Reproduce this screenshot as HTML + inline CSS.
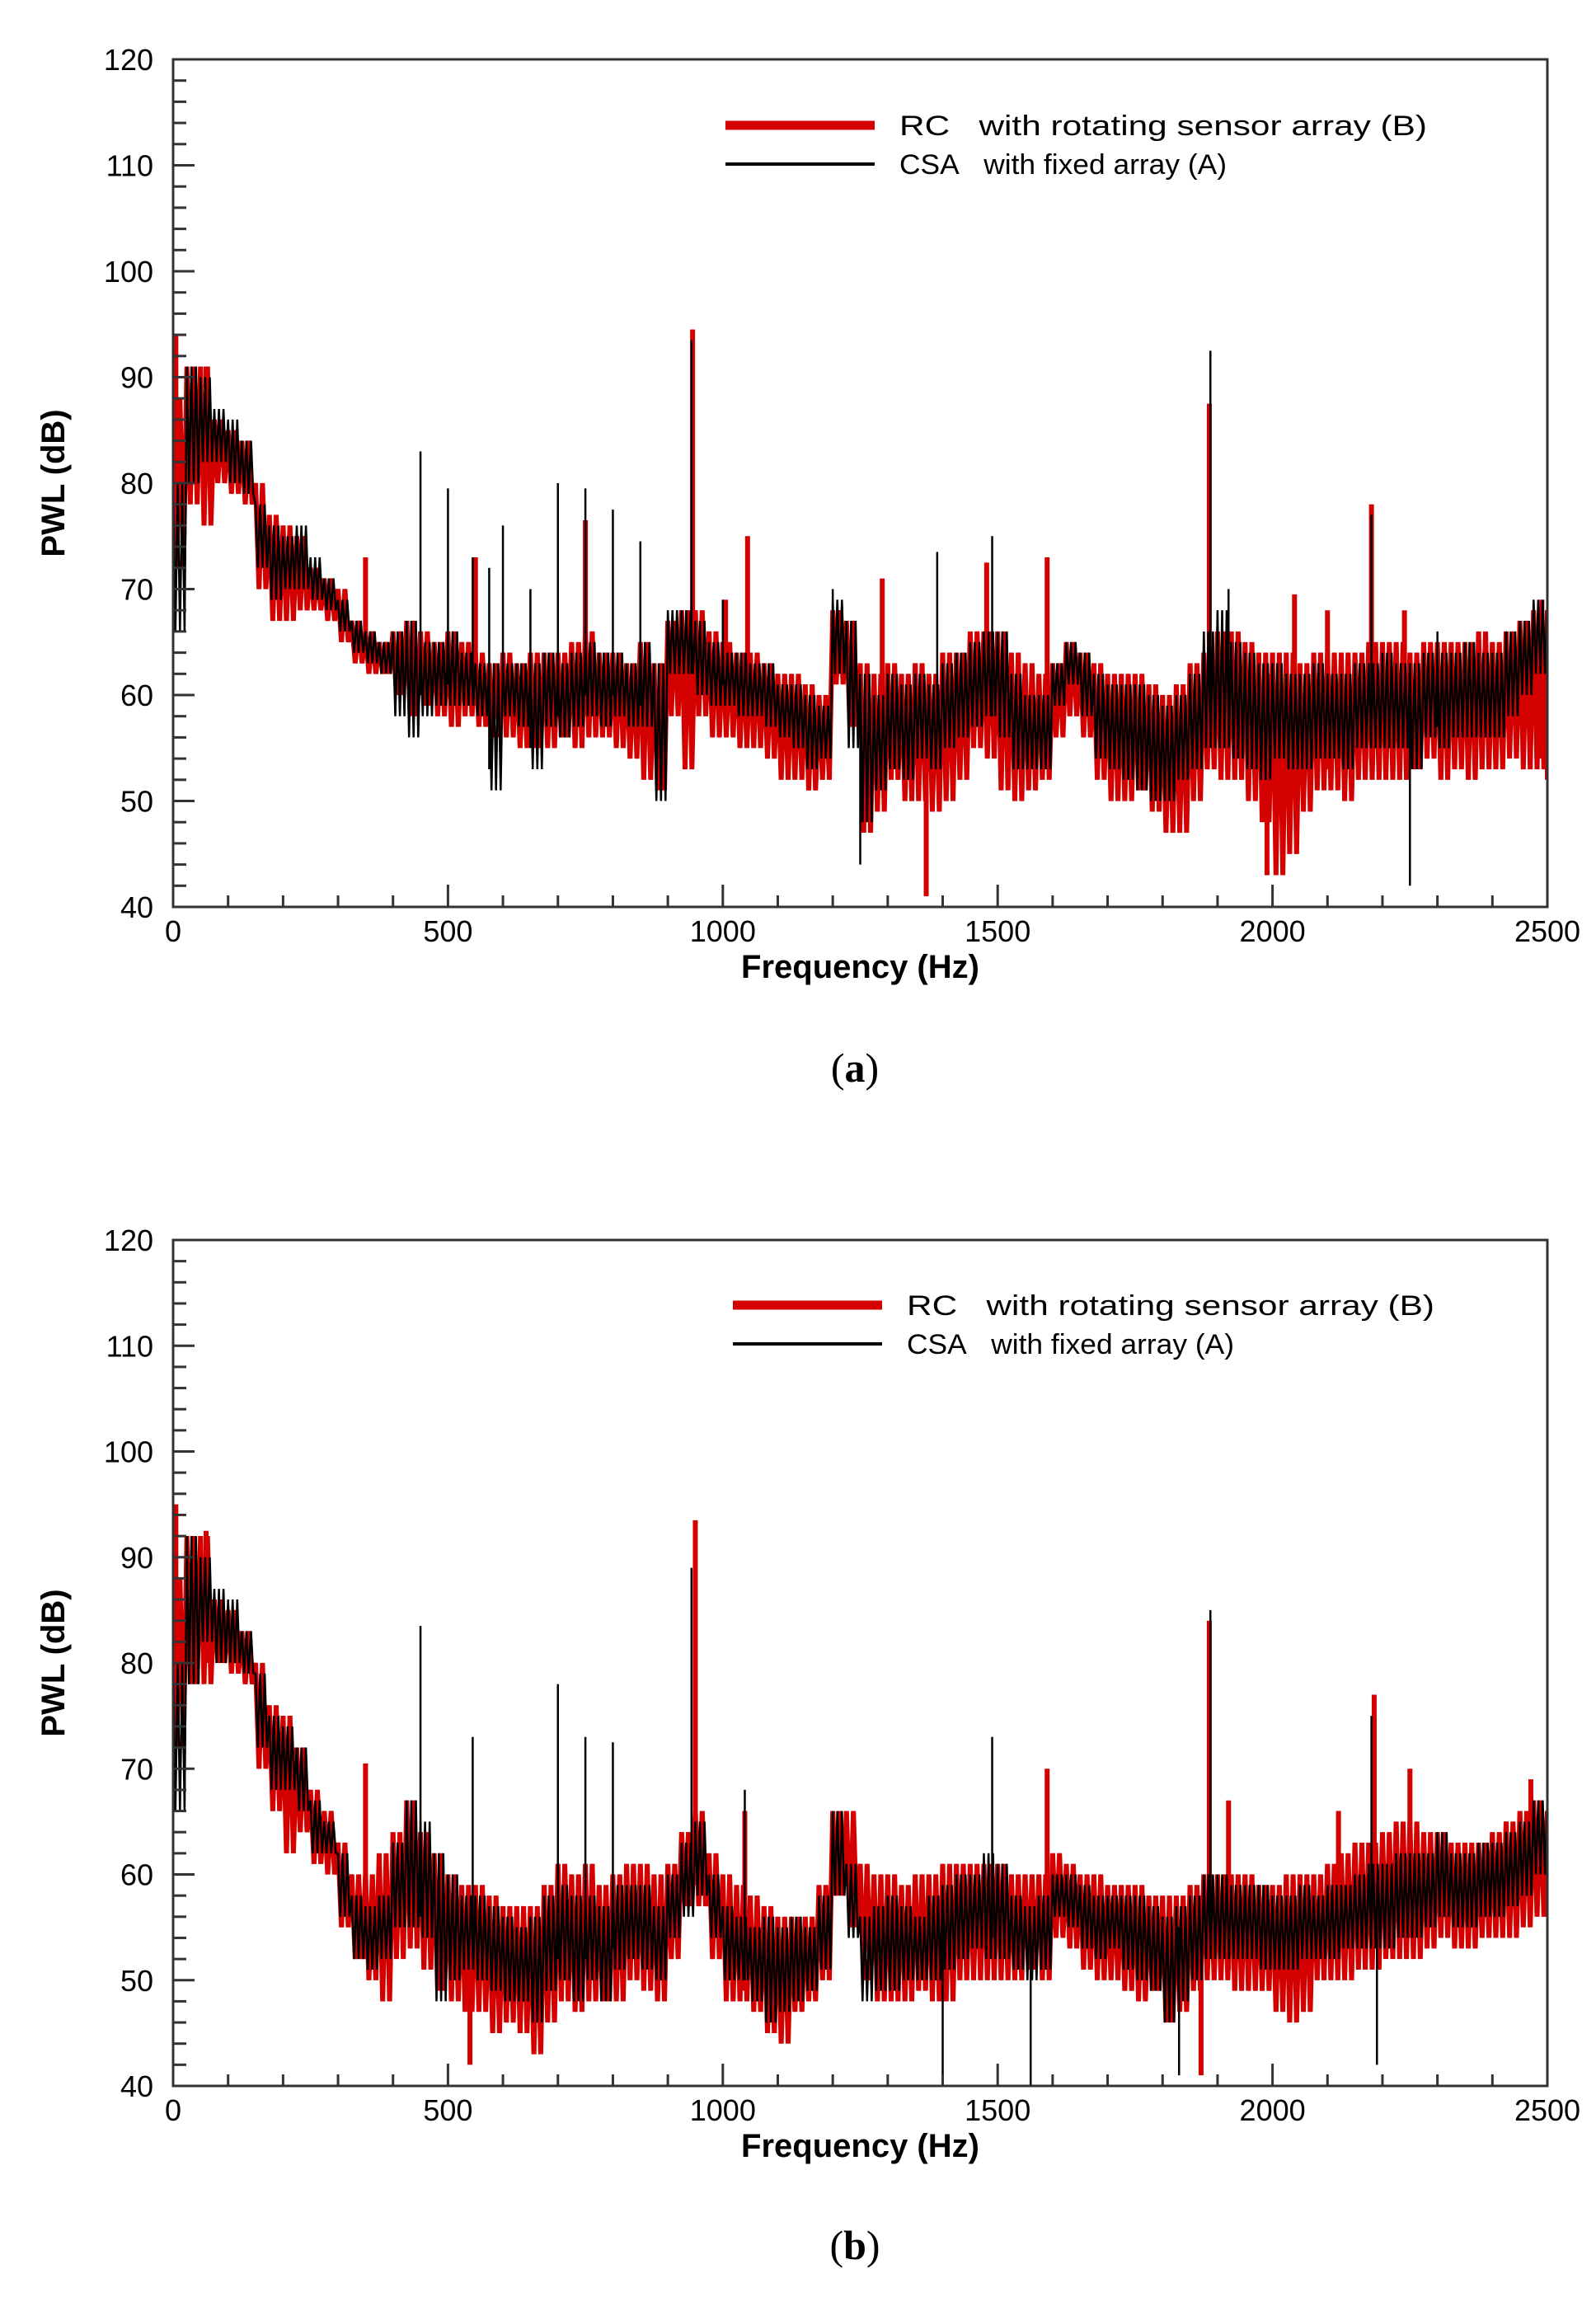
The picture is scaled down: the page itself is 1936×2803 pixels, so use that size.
<!DOCTYPE html>
<html><head><meta charset="utf-8"><style>
html,body{margin:0;padding:0;background:#fff}
svg{display:block}
text{font-family:"Liberation Sans",Arial,sans-serif;fill:#000}
</style></head><body>
<svg id="svg" width="1936" height="2803" viewBox="0 0 1936 2803"></svg>
<script>
// ---------- data (25 Hz bins: upper/lower envelope in dB) ----------
const freqStep = 25;
const xTicks = [0,500,1000,1500,2000,2500];
const yTicks = [40,50,60,70,80,90,100,110,120];

const aBlackHi=[80,91,90,87,86,84,78,76,75,76,73,71,69,67,66,65,66,67,65,65,66,64,63,63,63,63,63,64,63,64,65,64,64,63,65,63,68,68,67,65,64,64,63,63,61,61,60,59,69,67,62,60,62,61,62,61,63,64,65,66,66,62,60,60,63,65,64,62,61,61,61,60,59,60,62,66,68,65,64,63,63,62,62,63,62,62,63,63,64,63,63,64,64,64,65,64,64,66,67,69,69];
const aBlackLo=[66,80,82,82,80,79,72,69,70,70,69,68,66,64,63,62,58,56,58,59,59,59,58,51,58,57,53,57,56,57,58,57,58,57,57,50,62,62,60,59,59,58,58,57,56,55,53,54,62,55,48,51,53,52,54,53,55,56,57,58,56,53,53,53,59,61,58,54,53,52,51,50,50,52,53,55,55,54,53,52,54,53,53,54,54,53,55,55,55,55,53,56,55,56,56,56,56,58,60,62,63];
const aRedHi=[88,91,91,86,85,84,80,77,76,75,72,71,70,67,66,65,66,67,66,65,66,65,64,63,64,63,64,64,64,65,66,64,64,63,65,63,67,68,68,66,65,64,64,63,62,62,61,60,68,67,63,62,63,62,63,62,64,64,66,66,66,64,63,62,63,65,64,63,62,62,62,61,60,61,63,64,66,66,65,64,64,64,63,64,64,64,64,65,65,65,64,65,65,65,65,66,65,66,67,68,68];
const aRedLo=[72,78,76,80,79,78,70,67,67,68,68,67,65,63,62,62,60,58,59,58,57,58,57,56,56,55,55,55,56,55,56,56,55,54,52,51,58,53,58,56,56,55,55,54,52,52,51,52,61,57,47,49,52,50,50,49,50,52,55,54,51,50,51,52,56,58,56,52,50,50,51,49,47,47,50,53,52,52,50,48,43,45,49,51,51,50,52,52,52,52,53,54,52,53,52,53,53,54,53,53,52];
const aBlackPeakF=[450,500,545,575,600,650,700,750,800,850,943,1000,1200,1250,1390,1490,1887,1920,2180,2250,2300];
const aBlackPeakV=[83,79.5,73,72,76,70,80,79.5,77.5,74.5,93.5,69,70,44,73.5,75,92.5,70,77,42,66];
const aRedPeakF=[5,60,350,550,750,945,1005,1045,1290,1370,1480,1590,1885,1990,2040,2100,2180,2240,2490];
const aRedPeakV=[94,91,73,73,76.5,94.5,69,75,71,41,72.5,73,87.5,43,69.5,68,78,68,69];

const bBlackHi=[80,92,90,87,86,83,79,75,74,72,67,65,62,58,57,58,63,67,65,62,60,58,58,57,56,55,56,58,59,58,58,57,59,59,59,57,60,63,65,60,57,56,55,56,55,56,55,58,66,61,56,57,58,57,56,58,59,60,60,62,61,58,57,58,60,60,59,58,58,58,58,57,56,57,58,60,60,59,59,59,58,58,59,58,59,59,60,61,61,62,62,62,64,62,62,63,63,64,65,67,67];
const bBlackLo=[66,78,82,80,80,79,72,68,68,66,62,62,56,52,51,52,55,55,54,48,50,51,50,49,48,48,46,49,50,48,50,48,51,52,51,50,54,56,58,54,50,50,48,46,47,48,49,51,58,54,48,49,49,50,50,50,51,52,53,52,52,51,50,51,56,55,53,52,53,51,50,49,46,48,50,52,52,52,52,51,51,51,52,52,52,53,53,53,53,54,54,55,56,55,55,56,56,57,58,60,58];
const bRedHi=[88,92,92,86,85,83,80,76,75,72,68,66,63,60,60,62,64,67,64,62,60,59,59,58,57,57,57,59,61,60,61,59,60,61,61,60,61,64,66,62,60,59,58,57,56,56,56,59,66,66,61,60,60,59,60,60,61,61,61,61,61,60,60,60,62,61,60,60,59,59,59,58,58,58,59,60,60,60,60,59,59,60,60,60,61,62,63,63,64,65,65,64,64,63,63,63,64,65,66,67,66];
const bRedLo=[72,78,78,80,79,78,70,66,62,64,61,60,55,52,50,48,52,53,51,49,48,47,47,45,46,45,43,46,48,47,48,48,48,50,49,48,52,57,57,52,48,48,47,45,44,47,48,50,58,55,50,48,48,48,49,48,48,50,50,50,50,50,51,50,54,53,51,50,50,49,48,49,46,47,49,50,50,49,49,49,47,46,47,50,50,50,51,51,52,52,52,53,54,53,53,54,54,54,55,56,56];
const bBlackPeakF=[450,545,700,750,800,943,1040,1400,1490,1560,1830,1887,2180,2190];
const bBlackPeakV=[83.5,73,78,73,72.5,89,68,40,73,40,41,85,75,42];
const bRedPeakF=[5,60,350,540,950,1040,1590,1870,1885,1920,2120,2185,2250,2470];
const bRedPeakV=[95,92.5,70.5,42,93.5,66,70,41,84,67,66,77,70,69];

// ---------- drawing ----------
const NS='http://www.w3.org/2000/svg';
const svg=document.getElementById('svg');
const L=210,R=1877;
function mk(tag,attrs,parent){const e=document.createElementNS(NS,tag);for(const k in attrs)e.setAttribute(k,attrs[k]);(parent||svg).appendChild(e);return e;}

function chart(id,T,B,series,legendY,legX,caption,capY){
  const g=mk('g',{});
  
  
  const xs=f=>L+(f/2500)*(R-L);
  const ys=v=>B-(v-40)/80*(B-T);
  const cp=mk('clipPath',{id:'clip'+id},g);
  mk('rect',{x:L,y:T,width:R-L,height:B-T},cp);
  const pg=mk('g',{'clip-path':'url(#clip'+id+')'},g);
  series.forEach(s=>{
    let d='';
    const sub=s.sub;
    for(let i=0;i<s.hi.length;i++){
      const f=i*freqStep;
      for(let k=0;k<sub;k++){
        const f1=Math.min(2500,f+freqStep*(2*k)/(2*sub));
        const f2=Math.min(2500,f+freqStep*(2*k+1)/(2*sub));
        d+=((i||k)?'L':'M')+xs(f1).toFixed(1)+','+ys(s.hi[i]).toFixed(1)+'L'+xs(f2).toFixed(1)+','+ys(s.lo[i]).toFixed(1);
      }
    }
    const p=mk('path',{d:d,fill:'none',stroke:s.color,'stroke-width':s.w,'stroke-linejoin':'bevel'},pg);
    
    
    s.pf.forEach((f,k)=>{
      const bi=Math.min(s.hi.length-1,Math.round(f/freqStep));
      const base=s.pv[k]>s.hi[bi]?s.lo[bi]+2:s.hi[bi]-2;
      const l=mk('line',{x1:xs(f),x2:xs(f),y1:ys(base),y2:ys(s.pv[k]),stroke:s.color,'stroke-width':s.w},pg);
      
      
    });
  });
  const fr=mk('rect',{x:L,y:T,width:R-L,height:B-T,fill:'none',stroke:'#333','stroke-width':3},g);
  
  
  for(let v=40;v<=120;v+=2){
    const major=(v%10===0);
    mk('line',{x1:L,x2:L+(major?26:16),y1:ys(v),y2:ys(v),stroke:'#333','stroke-width':3},g);
  }
  yTicks.forEach(v=>{
    const t=mk('text',{x:186,y:ys(v)+13,'text-anchor':'end','font-size':36},g);
    t.textContent=v;
    
    
  });
  for(let f=100;f<2500;f+=100){
    const major=(f%500===0);
    mk('line',{x1:xs(f),x2:xs(f),y1:B,y2:B-(major?27:14),stroke:'#333','stroke-width':3},g);
  }
  xTicks.forEach(f=>{
    const t=mk('text',{x:xs(f),y:B+42,'text-anchor':'middle','font-size':36},g);
    t.textContent=f;
    
    
  });
  const xt=mk('text',{x:(L+R)/2,y:B+86,'text-anchor':'middle','font-size':40,'font-weight':'bold'},g);
  xt.textContent='Frequency (Hz)';
  
  
  const cy=(T+B)/2;
  const yt=mk('text',{x:78,y:cy,'text-anchor':'middle','font-size':40,'font-weight':'bold',transform:'rotate(-90 78 '+cy+')'},g);
  yt.textContent='PWL (dB)';
  
  
  const lg=mk('g',{},g);
  
  
  mk('line',{x1:legX,x2:legX+181,y1:legendY,y2:legendY,stroke:'#d40000','stroke-width':11},lg);
  mk('line',{x1:legX,x2:legX+181,y1:legendY+47,y2:legendY+47,stroke:'#000','stroke-width':4},lg);
  const t1=mk('text',{x:legX+211,y:legendY+12,'font-size':34,textLength:640,lengthAdjust:'spacingAndGlyphs'},lg);
  t1.textContent='RC\u00a0\u00a0\u00a0with rotating sensor array (B)';
  
  
  const t2=mk('text',{x:legX+211,y:legendY+59,'font-size':34,textLength:397,lengthAdjust:'spacingAndGlyphs'},lg);
  t2.textContent='CSA\u00a0\u00a0\u00a0with fixed array (A)';
  
  
  const c=mk('text',{x:1037,y:capY,'text-anchor':'middle','font-size':50,style:'font-family:"Liberation Serif",serif'},g);
  c.innerHTML='(<tspan font-weight="bold">'+caption+'</tspan>)';
  
  
}

chart('a',72,1100,[
  {name:'rc-series',color:'#d40000',w:6,sub:2,hi:aRedHi,lo:aRedLo,pf:aRedPeakF,pv:aRedPeakV},
  {name:'csa-series',color:'#000',w:2.5,sub:3,hi:aBlackHi,lo:aBlackLo,pf:aBlackPeakF,pv:aBlackPeakV}
],152,880,'a',1312);
chart('b',1504,2530,[
  {name:'rc-series',color:'#d40000',w:6,sub:2,hi:bRedHi,lo:bRedLo,pf:bRedPeakF,pv:bRedPeakV},
  {name:'csa-series',color:'#000',w:2.5,sub:3,hi:bBlackHi,lo:bBlackLo,pf:bBlackPeakF,pv:bBlackPeakV}
],1583,889,'b',2740);
</script>
</body></html>
